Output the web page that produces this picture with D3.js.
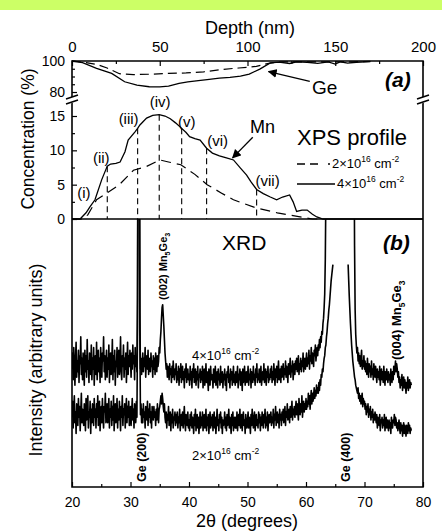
<!DOCTYPE html>
<html><head><meta charset="utf-8">
<script src="https://cdnjs.cloudflare.com/ajax/libs/d3/7.8.5/d3.min.js"></script>
<style>
html,body{margin:0;padding:0;background:#fff;}
svg{display:block;font-family:"Liberation Sans",Arial,Helvetica,sans-serif;}
</style></head><body>
<svg id="chart" width="442" height="531"></svg>
<script>
// ---------- XPS depth profiles: [depth (nm), concentration (%)] ----------
const geLowDose  = [[0,100],[8,99],[15,97.5],[20,95.5],[27,91.8],[35,91.2],[45,91.5],[55,92],[65,92.3],[75,93],[85,94.5],[95,95.5],[105,96.5],[112,98.5],[120,99.5],[140,99.5],[160,99.5],[170,99.7]];
const geHighDose = [[0,100],[6,99],[14,95.3],[22.6,92],[30,86.6],[37,84.5],[44,83.4],[50,83.3],[55,83.8],[61,85.5],[66,86.5],[72,87.3],[77,88],[84,89],[90,89.5],[96,90.3],[101,91.5],[107,94.8],[113,98.8],[118,99.3],[124,98.4],[128,99.5],[134,99.2],[140,98.5],[146,99.4],[150,98],[153,99.5],[157,98.6],[162,99.2],[170,99.6]];
const mnLowDose  = [[0,0],[6,0],[9,0.6],[14,2.8],[20,3.8],[27,5],[35,7.1],[42,7.6],[50,8.6],[55,8.3],[62,7.9],[70,6.5],[77,5],[85,3.8],[92,2.8],[105,1.6],[117,0.9],[130,0.3],[137,0],[143,0]];
const mnHighDose = [[0,0],[4.6,0],[8,0.9],[10.3,1.8],[13.1,2.8],[16.9,5.7],[20.1,7.7],[22,8.0],[25,8.1],[27.4,8.3],[30.2,9.8],[32,11.5],[35.9,12.7],[37.4,13.2],[38.7,13.7],[42.5,14.7],[46,15.1],[49.7,15.2],[53,15.0],[56,14.6],[59,14.0],[62.5,13.2],[65,12.6],[67,12.0],[70,11.7],[73,11.5],[76.7,10.3],[80,9.6],[84,9.2],[88,8.9],[92,8.6],[96,7.4],[99.5,6.4],[102,5.4],[105.2,4.3],[109,3.7],[113,3.2],[116.6,2.8],[120,3.2],[124,3.5],[126,2.5],[128,1.1],[131,1.3],[134,1.3],[137,0.7],[139.5,0.3],[143,0],[200,0]];

// sampling points along the Mn profile (depth, label, label offset)
const sampleDepths = [12.5, 20.1, 37.4, 49.7, 62.5, 76.7, 105.2];
const sampleLabels = ["(i)","(ii)","(iii)","(iv)","(v)","(vi)","(vii)"];
const sampleHasLine = [false, true, true, true, true, true, true];
const sampleOffsets = [[-10,-8],[-6,-8],[-9,-10],[1,-13],[5,-7],[11,-8],[11,-9]];

// ---------- XRD scans: 2θ from 20.0° in 0.1° steps, intensity (arb. units) ----------
const xrdStart = 20, xrdStep = 0.1;
const xrdHighDose = [
44,50,40,52,45,38,48,54,41,47,43,51,39,49,46,56,42,48,40,50,
45,38,51,43,49,41,55,44,47,39,50,46,42,53,40,48,44,52,38,47,
49,42,54,40,46,51,43,48,39,52,45,41,50,47,56,43,49,40,46,51,
41,48,44,53,39,47,50,42,46,55,40,49,43,51,38,47,45,52,41,48,
51,42,47,56,43,40,49,45,53,41,48,44,50,39,46,54,42,49,45,51,
47,41,50,44,53,46,49,40,52,45,48,43,70,160,160,160,65,44,48,42,
46,50,43,48,45,52,41,47,49,44,51,42,46,48,43,50,45,47,41,49,
44,48,42,50,46,43,49,45,47,52,50,55,58,63,67,68,64,60,55,50,
47,44,46,41,45,43,40,46,42,44,39,45,41,47,43,40,44,42,46,39,
43,40,45,38,44,41,46,39,42,45,40,43,37,44,41,46,39,42,44,40,
42,38,45,40,43,37,44,41,46,39,42,44,38,43,40,45,37,42,41,44,
39,43,40,45,37,42,44,38,41,46,39,43,40,36,44,41,38,45,40,42,
41,37,44,39,42,45,38,41,43,37,44,40,42,38,45,39,41,43,37,42,
40,44,38,42,36,43,41,45,39,42,37,44,40,43,38,41,45,39,42,38,
43,39,41,45,37,42,40,44,38,43,41,36,44,39,42,45,38,41,43,39,
41,45,38,42,40,44,37,43,41,39,45,40,42,38,44,41,46,39,42,40,
44,39,42,45,38,41,43,40,46,39,42,44,38,43,41,45,39,42,40,44,
41,45,39,43,40,46,42,38,44,41,45,39,43,47,40,42,44,39,45,41,
43,46,40,44,42,47,41,45,43,39,46,42,44,48,41,45,43,47,40,44,
46,42,47,44,48,43,45,49,42,46,44,48,43,47,45,50,43,46,48,44,
47,50,45,48,46,51,44,49,47,52,46,50,48,45,51,49,53,47,50,52,
49,53,51,55,52,56,54,58,57,61,63,67,72,85,110,160,160,160,160,160,
160,160,160,160,160,160,160,160,160,160,160,160,160,160,160,160,160,160,160,160,
160,160,160,160,160,160,160,160,160,160,160,160,160,160,160,160,160,160,160,160,
160,160,140,90,66,57,53,50,52,47,50,46,49,45,48,51,44,47,45,49,
44,47,43,46,42,48,44,41,46,43,45,41,47,42,44,40,46,43,41,45,
42,39,44,41,43,40,45,38,42,44,40,43,39,45,41,38,43,40,44,41,
39,43,40,42,38,44,41,39,43,40,45,42,44,47,43,46,44,41,43,39,
41,37,40,38,42,36,39,41,37,40,38,35,39,37,41,36,38,40,37,39,
38];
const xrdLowDose = [
26,32,22,29,34,24,28,20,31,27,23,33,26,30,21,28,35,24,29,25,
23,31,27,21,33,25,29,34,22,28,26,32,20,29,24,31,27,23,33,26,
29,22,31,26,34,23,28,32,21,27,30,24,33,26,22,30,28,35,24,27,
31,24,28,33,22,29,26,32,23,30,25,34,21,28,31,24,27,33,22,29,
25,32,28,21,30,26,34,23,29,27,31,22,28,33,24,30,26,32,23,28,
30,23,28,33,25,29,22,31,27,24,32,26,60,160,160,160,58,27,31,24,
29,24,31,26,28,22,30,27,25,32,23,29,26,31,24,28,22,30,27,25,
30,26,28,23,29,25,31,27,24,29,30,32,34,31,35,33,30,28,31,26,
24,28,22,27,25,30,23,26,28,21,27,24,29,22,26,25,28,23,27,24,
28,22,26,24,29,21,25,27,23,28,22,26,30,24,21,27,25,23,28,22,
25,21,27,23,28,22,26,24,20,27,23,29,21,25,27,22,26,20,24,28,
22,26,23,28,21,25,27,22,24,29,21,26,23,27,20,25,28,22,26,23,
27,21,25,28,22,26,20,24,29,23,25,21,27,24,28,22,26,20,25,23,
24,28,22,26,21,27,23,25,29,22,26,24,20,27,23,28,21,25,26,22,
26,22,28,21,25,27,23,29,22,24,27,21,26,28,23,25,20,27,24,22,
25,28,22,26,24,20,27,23,29,25,22,26,28,21,24,27,23,25,22,28,
24,27,21,26,23,28,25,22,27,24,29,22,26,23,28,21,25,27,24,26,
28,23,26,24,29,22,27,25,30,23,26,28,24,27,22,29,25,27,23,28,
25,29,24,27,30,23,28,26,31,25,27,29,24,30,26,28,32,25,29,27,
30,26,29,32,27,31,28,25,33,29,27,31,28,34,26,30,32,28,31,29,
33,29,32,30,35,31,34,29,33,36,31,35,32,34,37,33,36,34,38,35,
37,35,39,36,40,38,42,41,44,43,46,48,49,52,53,56,58,61,63,66,
68,71,74,77,79,81,83,null,null,null,null,null,null,null,null,null,null,null,null,null,
null,null,null,null,null,null,null,null,null,null,null,null,83,77,71,66,61,57,53,50,
47,45,43,41,40,38,37,36,35,37,33,35,32,34,31,33,35,30,33,31,
32,29,31,27,30,28,31,26,29,27,30,25,28,26,29,24,27,25,28,26,
24,27,22,26,25,23,27,21,25,24,26,22,25,23,27,21,24,26,22,25,
23,21,25,22,24,20,26,23,22,25,24,27,23,26,25,22,24,21,23,25,
22,20,24,21,23,19,22,24,20,23,21,19,23,22,20,24,21,23,20,22,
21];

// peak assignments (2θ position, label parts, font size)
const peakLabelPos = [31.8, 66.8, 35.6, 75.5];
const peakLabelText = [
  [["Ge (200)",""]],
  [["Ge (400)",""]],
  [["(002) Mn",""],["5","sub"],["Ge",""],["3","sub"]],
  [["(004) Mn",""],["5","sub"],["Ge",""],["3","sub"]]
];
const peakLabelBase = [482, 482, 300, 360];
const peakLabelSize = [12.5, 12.5, 11, 13];

// axis ticks
const depthTicks = [0,50,100,150,200], depthMinor = [25,75,125,175];
const geTicks = [80,100], geMinor = [85,90,95];
const mnTicks = [0,5,10,15], mnMinor = [2.5,7.5,12.5];
const thetaTicks = [20,30,40,50,60,70,80], thetaMinor = [25,35,45,55,65,75];

// ---------- layout ----------
const svg = d3.select("#chart");
const FONT = '"Liberation Sans",Arial,Helvetica,sans-serif';
const L = 72, R = 423, T = 61, MID = 219, B = 487;

svg.append("rect").attr("x",0).attr("y",0).attr("width",442).attr("height",10).attr("fill","#ccff66");

const xDepth = d3.scaleLinear().domain([0,200]).range([L,R]);
const yGe = d3.scaleLinear().domain([80,100]).range([92,T]);
const yMn = d3.scaleLinear().domain([0,15]).range([MID,116]);
const xTheta = d3.scaleLinear().domain([20,80]).range([L,R]);
const yInt = d3.scaleLinear().domain([0,100]).range([B,MID]);

function rich(textSel, parts, fs) {
  let shift = 0;
  for (const [t, k] of parts) {
    const target = k === "sup" ? -fs*0.45 : k === "sub" ? fs*0.28 : 0;
    textSel.append("tspan").attr("dy", target - shift).attr("font-size", k ? fs*0.65 : fs).text(t);
    shift = target;
  }
}

function styleAxis(g, fs) {
  g.select(".domain").remove();
  g.attr("font-family", FONT).attr("font-size", fs);
  g.selectAll("line").attr("stroke","#000").attr("stroke-width",1.2);
  g.selectAll("text").attr("fill","#000");
}

// ---------- XRD traces (drawn first, clipped to lower panel) ----------
svg.append("clipPath").attr("id","xrdClip").append("rect")
  .attr("x",L).attr("y",MID).attr("width",R-L).attr("height",B-MID);
const xrdLine = d3.line()
  .defined(d => d.v !== null)
  .x(d => xTheta(d.t)).y(d => yInt(d.v));
const toPts = arr => arr.map((v,i) => ({t: xrdStart + xrdStep*i, v}));
const xrdG = svg.append("g").attr("clip-path","url(#xrdClip)");
[xrdHighDose, xrdLowDose].forEach(arr => {
  xrdG.append("path").attr("d", xrdLine(toPts(arr)))
    .attr("fill","none").attr("stroke","#000").attr("stroke-width",1.6).attr("stroke-linejoin","round");
});

// ---------- XPS curves ----------
const depthLine = (ys) => d3.line().x(d => xDepth(d[0])).y(d => ys(d[1]));
svg.append("path").attr("d", depthLine(yGe)(geHighDose)).attr("fill","none").attr("stroke","#000").attr("stroke-width",1.3);
svg.append("path").attr("d", depthLine(yGe)(geLowDose)).attr("fill","none").attr("stroke","#000").attr("stroke-width",1.2).attr("stroke-dasharray","9,5");
svg.append("path").attr("d", depthLine(yMn)(mnHighDose)).attr("fill","none").attr("stroke","#000").attr("stroke-width",1.3);
svg.append("path").attr("d", depthLine(yMn)(mnLowDose)).attr("fill","none").attr("stroke","#000").attr("stroke-width",1.2).attr("stroke-dasharray","10,6");

// sampling points on the Mn profile
const mnAt = depth => {
  for (let i = 1; i < mnHighDose.length; i++) {
    const [d0,v0] = mnHighDose[i-1], [d1,v1] = mnHighDose[i];
    if (depth <= d1) return v0 + (v1 - v0) * (depth - d0) / (d1 - d0);
  }
  return 0;
};
sampleDepths.forEach((dep, i) => {
  const v = mnAt(dep), px = xDepth(dep), py = yMn(v);
  if (sampleHasLine[i]) {
    svg.append("line").attr("x1",px).attr("x2",px).attr("y1",py).attr("y2",yMn(0))
      .attr("stroke","#000").attr("stroke-width",1.1).attr("stroke-dasharray","6,4");
  }
  svg.append("text").attr("x", px + sampleOffsets[i][0]).attr("y", py + sampleOffsets[i][1])
    .attr("dy","0.35em").attr("text-anchor","middle").attr("font-size",15).attr("font-family",FONT)
    .text(sampleLabels[i]);
});

// ---------- frame ----------
svg.append("path").attr("d",`M${L},${T}H${R}V${B}H${L}Z M${L},${MID}H${R}`)
  .attr("fill","none").attr("stroke","#000").attr("stroke-width",1.6);

// axis breaks
[L, R].forEach(x => {
  const g = svg.append("g").attr("transform",`translate(${x},100)`);
  g.append("polygon").attr("points","-6,-1 6,-5 6,1 -6,5").attr("fill","#fff");
  g.append("line").attr("x1",-6).attr("y1",-1).attr("x2",6).attr("y2",-5).attr("stroke","#000").attr("stroke-width",1.6);
  g.append("line").attr("x1",-6).attr("y1",4).attr("x2",6).attr("y2",0).attr("stroke","#000").attr("stroke-width",1.6);
});

// ---------- axes ----------
svg.append("g").attr("transform",`translate(0,${T})`)
  .call(d3.axisTop(xDepth).tickValues(depthTicks).tickSize(-5).tickPadding(9)).call(g => styleAxis(g,15));
svg.append("g").attr("transform",`translate(0,${T})`)
  .call(d3.axisTop(xDepth).tickValues(depthMinor).tickSize(-3).tickFormat("")).call(g => styleAxis(g,15));
svg.append("g").attr("transform",`translate(${L},0)`)
  .call(d3.axisLeft(yGe).tickValues(geTicks).tickSize(-5).tickPadding(7)).call(g => styleAxis(g,14));
svg.append("g").attr("transform",`translate(${L},0)`)
  .call(d3.axisLeft(yGe).tickValues(geMinor).tickSize(-3).tickFormat("")).call(g => styleAxis(g,14));
svg.append("g").attr("transform",`translate(${L},0)`)
  .call(d3.axisLeft(yMn).tickValues(mnTicks).tickSize(-5).tickPadding(7)).call(g => styleAxis(g,14));
svg.append("g").attr("transform",`translate(${L},0)`)
  .call(d3.axisLeft(yMn).tickValues(mnMinor).tickSize(-3).tickFormat("")).call(g => styleAxis(g,14));
svg.append("g").attr("transform",`translate(0,${B})`)
  .call(d3.axisBottom(xTheta).tickValues(thetaTicks).tickSize(-5).tickPadding(10)).call(g => styleAxis(g,14));
svg.append("g").attr("transform",`translate(0,${B})`)
  .call(d3.axisBottom(xTheta).tickValues(thetaMinor).tickSize(-3).tickFormat("")).call(g => styleAxis(g,14));

// ---------- axis titles ----------
const txt = (x, y, s, fs, anchor="start") => svg.append("text").attr("x",x).attr("y",y)
  .attr("font-size",fs).attr("font-family",FONT).attr("text-anchor",anchor).attr("fill","#000").text(s);
txt(250, 34, "Depth (nm)", 18, "middle");
txt(247, 527, "2θ (degrees)", 18, "middle");
svg.append("text").attr("transform","translate(34,139) rotate(-90)").attr("text-anchor","middle")
  .attr("font-size",17.5).attr("font-family",FONT).text("Concentration (%)");
svg.append("text").attr("transform","translate(42,360) rotate(-90)").attr("text-anchor","middle")
  .attr("font-size",18).attr("font-family",FONT).text("Intensity (arbitrary units)");

// ---------- panel annotations ----------
svg.append("text").attr("x",385).attr("y",87).attr("font-size",21).attr("font-weight","bold")
  .attr("font-style","italic").attr("font-family",FONT).text("(a)");
svg.append("text").attr("x",383).attr("y",250).attr("font-size",21).attr("font-weight","bold")
  .attr("font-style","italic").attr("font-family",FONT).text("(b)");
txt(297, 145, "XPS profile", 22);
txt(222, 250, "XRD", 21);
txt(312, 94, "Ge", 19);
txt(250, 133, "Mn", 18);

// arrows
const defs = svg.append("defs");
defs.append("marker").attr("id","ah").attr("viewBox","0 0 10 10").attr("refX",9).attr("refY",5)
  .attr("markerWidth",9).attr("markerHeight",9).attr("markerUnits","userSpaceOnUse").attr("orient","auto")
  .append("path").attr("d","M0,0L10,5L0,10Z").attr("fill","#000");
const geArrow = [[135.5, 86.8],[112, 93.2]];
const mnArrow = [[103, 11.9],[91.5, 8.9]];
svg.append("line").attr("x1",xDepth(geArrow[0][0])).attr("y1",yGe(geArrow[0][1]))
  .attr("x2",xDepth(geArrow[1][0])).attr("y2",yGe(geArrow[1][1]))
  .attr("stroke","#000").attr("stroke-width",1.3).attr("marker-end","url(#ah)");
svg.append("line").attr("x1",xDepth(mnArrow[0][0])).attr("y1",yMn(mnArrow[0][1]))
  .attr("x2",xDepth(mnArrow[1][0])).attr("y2",yMn(mnArrow[1][1]))
  .attr("stroke","#000").attr("stroke-width",1.3).attr("marker-end","url(#ah)");

// legend
svg.append("line").attr("x1",297).attr("x2",330).attr("y1",164).attr("y2",164)
  .attr("stroke","#000").attr("stroke-width",1.3).attr("stroke-dasharray","8,5,8,10,2");
rich(svg.append("text").attr("x",332).attr("y",168).attr("font-family",FONT),
  [["2×10",""],["16","sup"],[" cm",""],["-2","sup"]], 13);
svg.append("line").attr("x1",297).attr("x2",335).attr("y1",184).attr("y2",184)
  .attr("stroke","#000").attr("stroke-width",1.3);
rich(svg.append("text").attr("x",337).attr("y",188).attr("font-family",FONT),
  [["4×10",""],["16","sup"],[" cm",""],["-2","sup"]], 13);

// dose labels on XRD scans
rich(svg.append("text").attr("x",192).attr("y",360).attr("font-family",FONT),
  [["4×10",""],["16","sup"],[" cm",""],["-2","sup"]], 13);
rich(svg.append("text").attr("x",192).attr("y",460).attr("font-family",FONT),
  [["2×10",""],["16","sup"],[" cm",""],["-2","sup"]], 13);

// peak assignments (rotated)
peakLabelPos.forEach((t, i) => {
  const fs = peakLabelSize[i];
  const el = svg.append("text")
    .attr("transform",`translate(${xTheta(t) + fs*0.36},${peakLabelBase[i]}) rotate(-90)`)
    .attr("font-family",FONT).attr("font-weight","bold");
  rich(el, peakLabelText[i], fs);
});
</script>
</body></html>
